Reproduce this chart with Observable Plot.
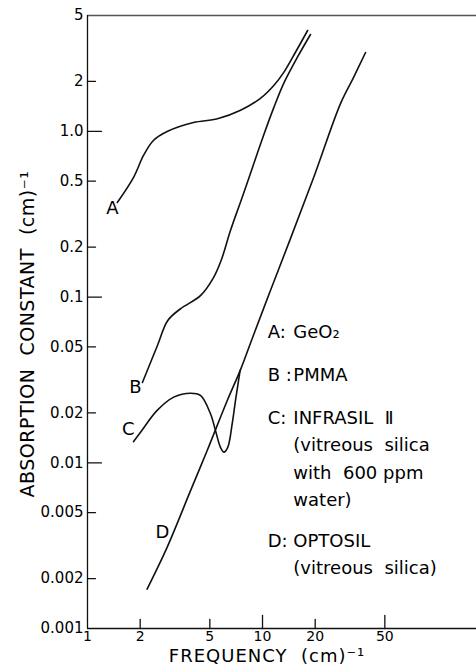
<!DOCTYPE html>
<html><head><meta charset="utf-8">
<script src="https://cdn.jsdelivr.net/npm/d3@7"></script>
<script src="https://cdn.jsdelivr.net/npm/@observablehq/plot@0.6"></script>
<style>
body{margin:0;background:#fff;}
svg{font-family:"DejaVu Sans",sans-serif;}
</style>
</head><body><div id="chart"></div>
<script>
// ---- data ----
const seriesNames = ["A", "B", "C", "D"];
const aFreq = [1.48, 1.83, 2.09, 2.38, 2.87, 4.03, 5.53, 7.49, 9.73, 11.6, 13.2, 15.4, 18.1];
const aAbs  = [0.372, 0.526, 0.715, 0.88, 1.0, 1.13, 1.19, 1.34, 1.58, 1.89, 2.26, 2.99, 4.06];
const bFreq = [2.06, 2.51, 2.87, 3.40, 4.42, 5.25, 5.8, 6.56, 7.49, 8.21, 10.1, 11.6, 13.2, 15.8, 18.8];
const bAbs  = [0.0305, 0.051, 0.072, 0.085, 0.102, 0.131, 0.166, 0.252, 0.375, 0.495, 0.935, 1.39, 1.94, 2.79, 3.84];
const cFreq = [1.83, 2.01, 2.50, 3.11, 3.88, 4.42, 5.05, 5.39, 5.75, 6.01, 6.33, 6.71, 7.01, 7.45];
const cAbs  = [0.0134, 0.0153, 0.0207, 0.0249, 0.0263, 0.0255, 0.0197, 0.0156, 0.0124, 0.0116, 0.0124, 0.0172, 0.0238, 0.0362];
const dFreq = [2.19, 2.85, 3.88, 4.83, 6.29, 7.49, 8.65, 11.1, 14.3, 19.6, 27.9, 33.1, 38.8];
const dAbs  = [0.00173, 0.00309, 0.00679, 0.01186, 0.02375, 0.0365, 0.0547, 0.1095, 0.219, 0.526, 1.47, 2.11, 2.99];

const xDomain = [1, 167];
const yDomain = [0.001, 5];
const xTicks = [1, 2, 5, 10, 20, 50];
const xTickLabels = ["1", "2", "5", "10", "20", "50"];
const xLongTicks = [10, 50];
const xShortTicks = [2, 5, 20];
const yTicks = [5, 2, 1, 0.5, 0.2, 0.1, 0.05, 0.02, 0.01, 0.005, 0.002, 0.001];
const yTickLabels = ["5", "2", "1.0", "0.5", "0.2", "0.1", "0.05", "0.02", "0.01", "0.005", "0.002", "0.001"];
const yLongTicks = [1, 0.1, 0.01];
const yShortTicks = [2, 0.5, 0.2, 0.05, 0.02, 0.005, 0.002];
const legendKeys = ["A:", "B :", "C:", "D:"];
const legendNames = ["GeO₂", "PMMA", "INFRASIL  Ⅱ\n(vitreous  silica\nwith  600 ppm\nwater)", "OPTOSIL\n(vitreous  silica)"];
const xTitle = "FREQUENCY  (cm)⁻¹";
const yTitle = "ABSORPTION  CONSTANT  (cm)⁻¹";

// ---- build table ----
const pairs = [[aFreq, aAbs], [bFreq, bAbs], [cFreq, cAbs], [dFreq, dAbs]];
const rows = [];
pairs.forEach(([xs, ys], k) => xs.forEach((x, i) => rows.push({series: seriesNames[k], x, y: ys[i]})));
const xLabel = new Map(xTicks.map((t, i) => [t, xTickLabels[i]]));
const yLabel = new Map(yTicks.map((t, i) => [t, yTickLabels[i]]));
const tickShape = {draw(ctx, l) { ctx.moveTo(0, 0); ctx.lineTo(0, -l); }};

const font = 18;
const lh = 1.53;
const legendX = 10.7, legendNameX = 15.0;
const legendY = [0.0747, 0.0411, 0.0226, 0.00409];
const legend = [];
for (let i = 0; i < 4; i++) {
  legend.push(Plot.text([legendKeys[i]], {x: legendX, y: legendY[i], text: d => d, textAnchor: "start", lineAnchor: "top", lineHeight: lh, fontSize: font}));
  legend.push(Plot.text([legendNames[i]], {x: legendNameX, y: legendY[i], text: d => d, textAnchor: "start", lineAnchor: "top", lineHeight: lh, fontSize: font}));
}

const chart = Plot.plot({
  width: 476,
  height: 671,
  marginLeft: 87,
  marginRight: 0,
  marginTop: 15,
  marginBottom: 43,
  x: {type: "log", domain: xDomain, axis: null},
  y: {type: "log", domain: yDomain, axis: null},
  marks: [
    Plot.ruleY([yDomain[1]], {stroke: "#555", strokeWidth: 1.5}),
    Plot.ruleY([yDomain[0]], {stroke: "#111", strokeWidth: 1.3}),
    Plot.ruleX([xDomain[0]], {stroke: "#111", strokeWidth: 1.3}),
    Plot.vector(yLongTicks, {x: xDomain[0], y: d => d, length: 14, rotate: 90, anchor: "start", shape: tickShape, stroke: "#111", strokeWidth: 1.3}),
    Plot.vector(yShortTicks, {x: xDomain[0], y: d => d, length: 8, rotate: 90, anchor: "start", shape: tickShape, stroke: "#111", strokeWidth: 1.3}),
    Plot.vector(xLongTicks, {x: d => d, y: yDomain[0], length: 13, rotate: 0, anchor: "start", shape: tickShape, stroke: "#111", strokeWidth: 1.3}),
    Plot.vector(xShortTicks, {x: d => d, y: yDomain[0], length: 9, rotate: 0, anchor: "start", shape: tickShape, stroke: "#111", strokeWidth: 1.3}),
    Plot.text(xTicks, {x: d => d, y: yDomain[0], text: d => xLabel.get(d), dy: 8.5, lineAnchor: "middle", fontSize: 14}),
    Plot.text(yTicks, {x: xDomain[0], y: d => d, text: d => yLabel.get(d), dx: -4, textAnchor: "end", fontSize: 15}),
    Plot.line(rows, {x: "x", y: "y", z: "series", curve: "catmull-rom", stroke: "#111", strokeWidth: 1.6}),
    // curve letters
    Plot.text([seriesNames[0]], {x: 1.39, y: 0.342, text: d => d, fontSize: font}),
    Plot.text([seriesNames[1]], {x: 1.88, y: 0.0284, text: d => d, fontSize: font}),
    Plot.text([seriesNames[2]], {x: 1.71, y: 0.0159, text: d => d, fontSize: font}),
    Plot.text([seriesNames[3]], {x: 2.68, y: 0.00379, text: d => d, fontSize: font}),
    ...legend,
    // axis titles
    Plot.text([xTitle], {frameAnchor: "bottom", textAnchor: "middle", lineAnchor: "middle", dx: -15, dy: 28, text: d => d, fontSize: 18}),
    Plot.text([yTitle], {frameAnchor: "left", textAnchor: "middle", lineAnchor: "middle", rotate: -90, dx: -60, dy: 12, text: d => d, fontSize: 19})
  ]
});
d3.select(chart).selectAll("text").each(function () {
  const t = this.textContent;
  if (t.startsWith("ABSORPTION")) this.style.letterSpacing = "0.5px";
  else if (t.startsWith("FREQUENCY")) this.style.letterSpacing = "1px";
});
document.getElementById("chart").append(chart);
</script>
</body></html>
